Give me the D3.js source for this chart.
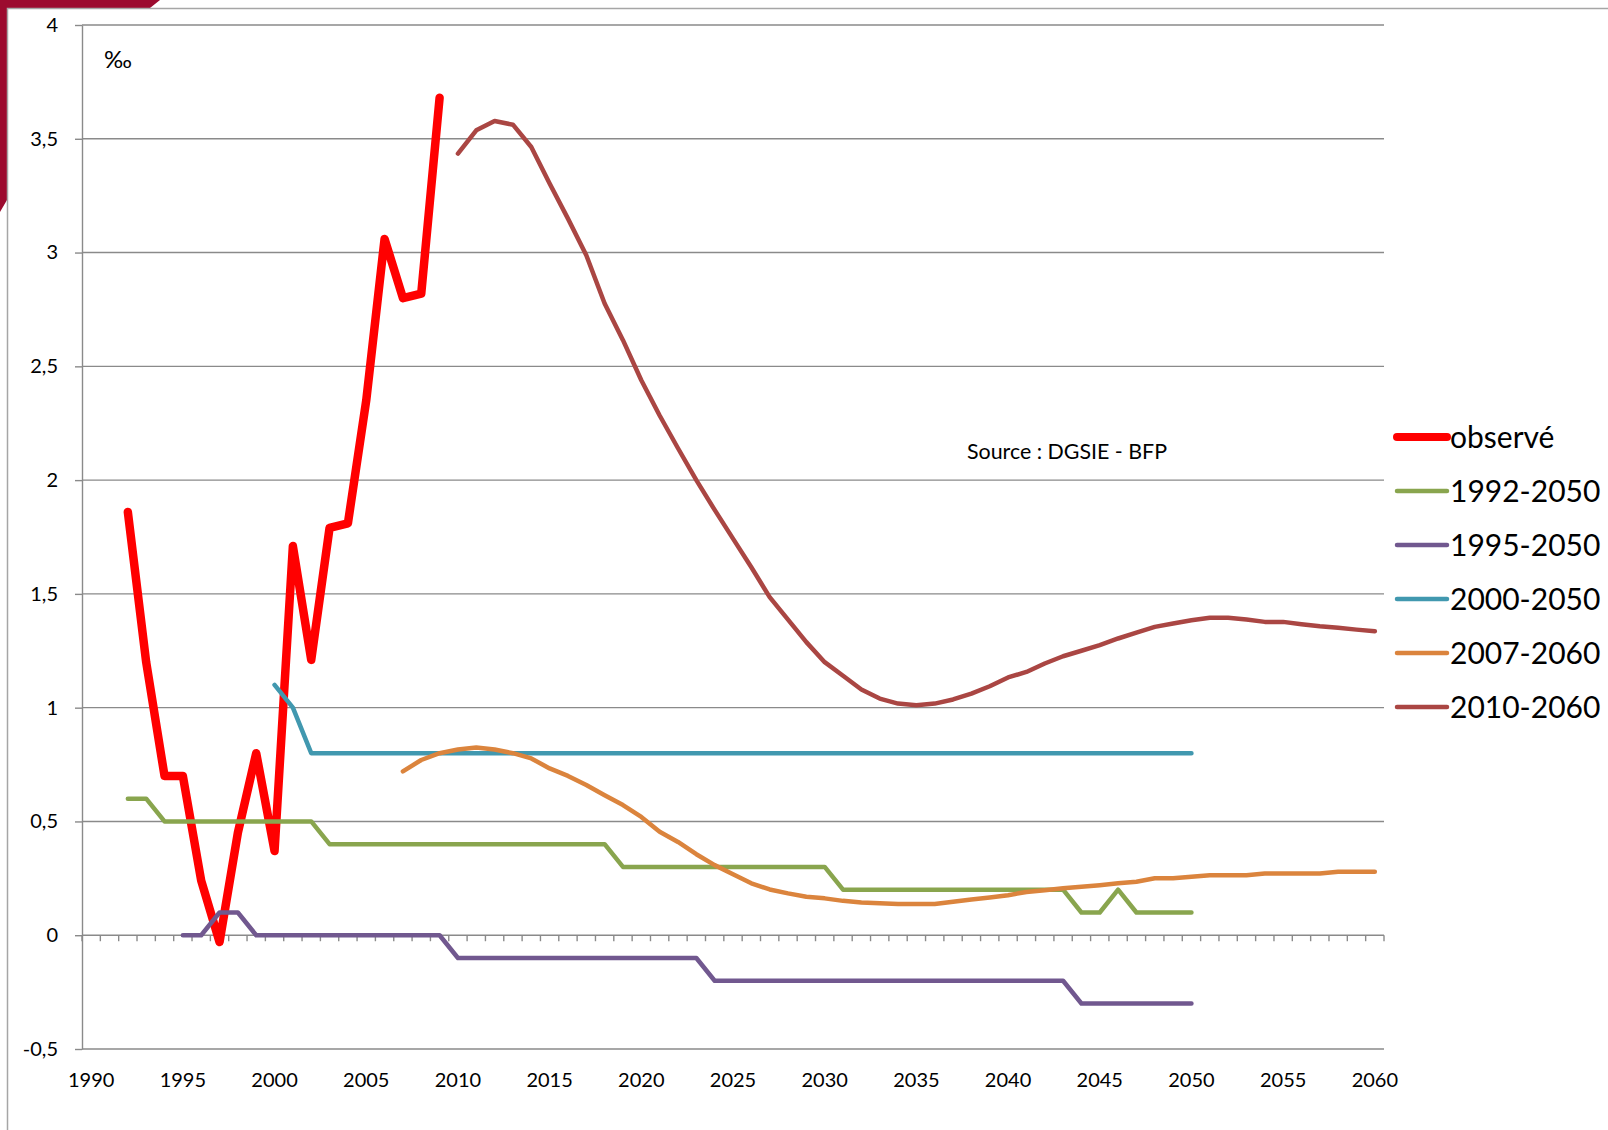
<!DOCTYPE html>
<html>
<head>
<meta charset="utf-8">
<script src="https://cdn.jsdelivr.net/npm/d3@7"></script>
<style>
  body { margin: 0; background: #fff; }
  svg { display: block; }
</style>
</head>
<body>
<div id="chart"></div>
<script>
// categories (one per year) and tick labels
const years = d3.range(1990, 2061);
const labelYears = [1990, 1995, 2000, 2005, 2010, 2015, 2020, 2025, 2030, 2035, 2040, 2045, 2050, 2055, 2060];
const yTicks = [-0.5, 0, 0.5, 1, 1.5, 2, 2.5, 3, 3.5, 4];

const seriesNames = ['observé', '1992-2050', '1995-2050', '2000-2050', '2007-2060', '2010-2060'];
const seriesStart = [1992, 1992, 1995, 2000, 2007, 2010];

// observé, 1992-2009
const observed = [1.86, 1.2, 0.7, 0.7, 0.24, -0.03, 0.45, 0.8, 0.37, 1.71, 1.21, 1.79, 1.81, 2.35, 3.06, 2.8, 2.82, 3.68];

// projection 1992-2050
const proj1992 = [0.6, 0.6,
    0.5, 0.5, 0.5, 0.5, 0.5, 0.5, 0.5, 0.5, 0.5,
    0.4, 0.4, 0.4, 0.4, 0.4, 0.4, 0.4, 0.4, 0.4, 0.4, 0.4, 0.4, 0.4, 0.4, 0.4, 0.4,
    0.3, 0.3, 0.3, 0.3, 0.3, 0.3, 0.3, 0.3, 0.3, 0.3, 0.3, 0.3,
    0.2, 0.2, 0.2, 0.2, 0.2, 0.2, 0.2, 0.2, 0.2, 0.2, 0.2, 0.2, 0.2,
    0.1, 0.1, 0.2, 0.1, 0.1, 0.1, 0.1];

// projection 1995-2050
const proj1995 = [0, 0, 0.1, 0.1,
    0, 0, 0, 0, 0, 0, 0, 0, 0, 0, 0,
    -0.1, -0.1, -0.1, -0.1, -0.1, -0.1, -0.1, -0.1, -0.1, -0.1, -0.1, -0.1, -0.1, -0.1,
    -0.2, -0.2, -0.2, -0.2, -0.2, -0.2, -0.2, -0.2, -0.2, -0.2, -0.2, -0.2, -0.2, -0.2, -0.2, -0.2, -0.2, -0.2, -0.2, -0.2,
    -0.3, -0.3, -0.3, -0.3, -0.3, -0.3, -0.3];

// projection 2000-2050
const proj2000 = [1.1, 1.0,
    0.8, 0.8, 0.8, 0.8, 0.8, 0.8, 0.8, 0.8, 0.8, 0.8,
    0.8, 0.8, 0.8, 0.8, 0.8, 0.8, 0.8, 0.8, 0.8, 0.8,
    0.8, 0.8, 0.8, 0.8, 0.8, 0.8, 0.8, 0.8, 0.8, 0.8,
    0.8, 0.8, 0.8, 0.8, 0.8, 0.8, 0.8, 0.8, 0.8, 0.8,
    0.8, 0.8, 0.8, 0.8, 0.8, 0.8, 0.8, 0.8, 0.8];

// projection 2007-2060
const proj2007 = [0.72, 0.77, 0.8, 0.816, 0.825, 0.816, 0.8, 0.777, 0.733, 0.7,
    0.66, 0.615, 0.572, 0.52, 0.455, 0.41, 0.356, 0.308, 0.268, 0.228,
    0.201, 0.184, 0.169, 0.162, 0.151, 0.144, 0.14, 0.137, 0.137, 0.137,
    0.147, 0.157, 0.166, 0.176, 0.19, 0.198, 0.206, 0.213, 0.22, 0.228,
    0.235, 0.25, 0.25, 0.257, 0.264, 0.264, 0.264, 0.271, 0.271, 0.271,
    0.271, 0.279, 0.279, 0.279];

// projection 2010-2060
const proj2010 = [3.435, 3.537, 3.578, 3.562, 3.464, 3.303, 3.149, 2.988, 2.776, 2.615,
    2.439, 2.284, 2.14, 2.0, 1.869, 1.743, 1.617, 1.486, 1.387, 1.288,
    1.2, 1.14, 1.08, 1.04, 1.018, 1.011, 1.018, 1.036, 1.062, 1.094,
    1.133, 1.157, 1.194, 1.226, 1.25, 1.275, 1.304, 1.33, 1.355, 1.37,
    1.384, 1.395, 1.395, 1.387, 1.377, 1.377, 1.367, 1.358, 1.351, 1.343,
    1.336];

const seriesValues = [observed, proj1992, proj1995, proj2000, proj2007, proj2010];

const colors = ['#ff0000', '#89a54e', '#71588f', '#4198af', '#db843d', '#aa4643'];
const widths = [8.5, 4.5, 4.5, 4.5, 4.5, 4.5];

const width = 1608;
const height = 1130;
const plot = { left: 82, right: 1384, top: 25, bottom: 1049 };
const gridColor = '#8a8a8a';
const font = 'Lato, "Open Sans", sans-serif';

const svg = d3.select('#chart')
    .append('svg')
    .attr('width', width)
    .attr('height', height)
    .style('background', '#fff');

// crimson corner from the slide behind + chart border
svg.append('path')
    .attr('d', 'M0,0 L160,0 L150,8 L7,8 L7,200 L0,212 Z')
    .attr('fill', '#9c0b2f');
svg.append('path')
    .attr('d', `M7.5,${height} L7.5,8.5 L${width},8.5`)
    .attr('fill', 'none')
    .attr('stroke', '#a6a6a6')
    .attr('stroke-width', 1.5);

// scales
const x = d3.scaleBand()
    .domain(years)
    .range([plot.left, plot.right])
    .padding(0);
const xc = yr => x(yr) + x.bandwidth() / 2;

const y = d3.scaleLinear()
    .domain([-0.5, 4])
    .range([plot.bottom, plot.top]);

// horizontal gridlines
svg.selectAll('.grid-line')
    .data(yTicks)
    .join('line')
    .attr('class', 'grid-line')
    .attr('x1', plot.left)
    .attr('x2', plot.right)
    .attr('y1', d => y(d))
    .attr('y2', d => y(d))
    .attr('stroke', gridColor)
    .attr('stroke-width', 1.4);

// y axis
svg.append('g')
    .attr('transform', `translate(${plot.left},0)`)
    .call(d3.axisLeft(y).tickValues(yTicks).tickSize(7).tickSizeOuter(0).tickPadding(17)
        .tickFormat(d => String(d).replace('.', ',')))
    .call(g => g.selectAll('line, path').attr('stroke', gridColor).attr('stroke-width', 1.4))
    .call(g => g.selectAll('text')
        .style('font-family', font)
        .style('font-size', '20px')
        .attr('fill', '#000'));

// category ticks on the zero line
const tickX = years.map(d => x(d)).concat([plot.right]);
svg.selectAll('.x-tick')
    .data(tickX)
    .join('line')
    .attr('class', 'x-tick')
    .attr('x1', d => d)
    .attr('x2', d => d)
    .attr('y1', y(0))
    .attr('y2', y(0) + 6)
    .attr('stroke', gridColor)
    .attr('stroke-width', 1.4);

// year labels under the plot
svg.append('g')
    .attr('transform', `translate(0,${plot.bottom})`)
    .call(d3.axisBottom(x).tickValues(labelYears).tickSize(0).tickPadding(24))
    .call(g => g.select('.domain').remove())
    .call(g => g.selectAll('text')
        .style('font-family', font)
        .style('font-size', '20px')
        .attr('fill', '#000'));

// series lines
const series = seriesNames.map((name, i) => ({
    name,
    start: seriesStart[i],
    values: seriesValues[i],
    color: colors[i],
    width: widths[i]
}));

svg.selectAll('.series')
    .data(series)
    .join('path')
    .attr('class', 'series')
    .attr('fill', 'none')
    .attr('stroke', d => d.color)
    .attr('stroke-width', d => d.width)
    .attr('stroke-linejoin', 'round')
    .attr('stroke-linecap', 'round')
    .attr('d', d => d3.line()
        .x((v, i) => xc(d.start + i))
        .y(v => y(v))(d.values));

// per mille unit
svg.append('text')
    .attr('x', 104)
    .attr('y', 60)
    .attr('dy', '0.35em')
    .style('font-family', font)
    .style('font-size', '24px')
    .text('‰');

// source
svg.append('text')
    .attr('x', 967)
    .attr('y', 452)
    .attr('dy', '0.35em')
    .style('font-family', font)
    .style('font-size', '21.4px')
    .text('Source : DGSIE - BFP');

// legend
const legend = svg.append('g')
    .attr('transform', 'translate(1397,437)');

const row = legend.selectAll('.legend-row')
    .data(series)
    .join('g')
    .attr('class', 'legend-row')
    .attr('transform', (d, i) => `translate(0,${i * 54})`);

row.append('line')
    .attr('x1', 0)
    .attr('x2', 50)
    .attr('stroke', d => d.color)
    .attr('stroke-width', (d, i) => i === 0 ? 8 : 4.5)
    .attr('stroke-linecap', 'round');

row.append('text')
    .attr('x', 53)
    .attr('dy', '0.35em')
    .style('font-family', font)
    .style('font-size', '30px')
    .text(d => d.name);
</script>
</body>
</html>
